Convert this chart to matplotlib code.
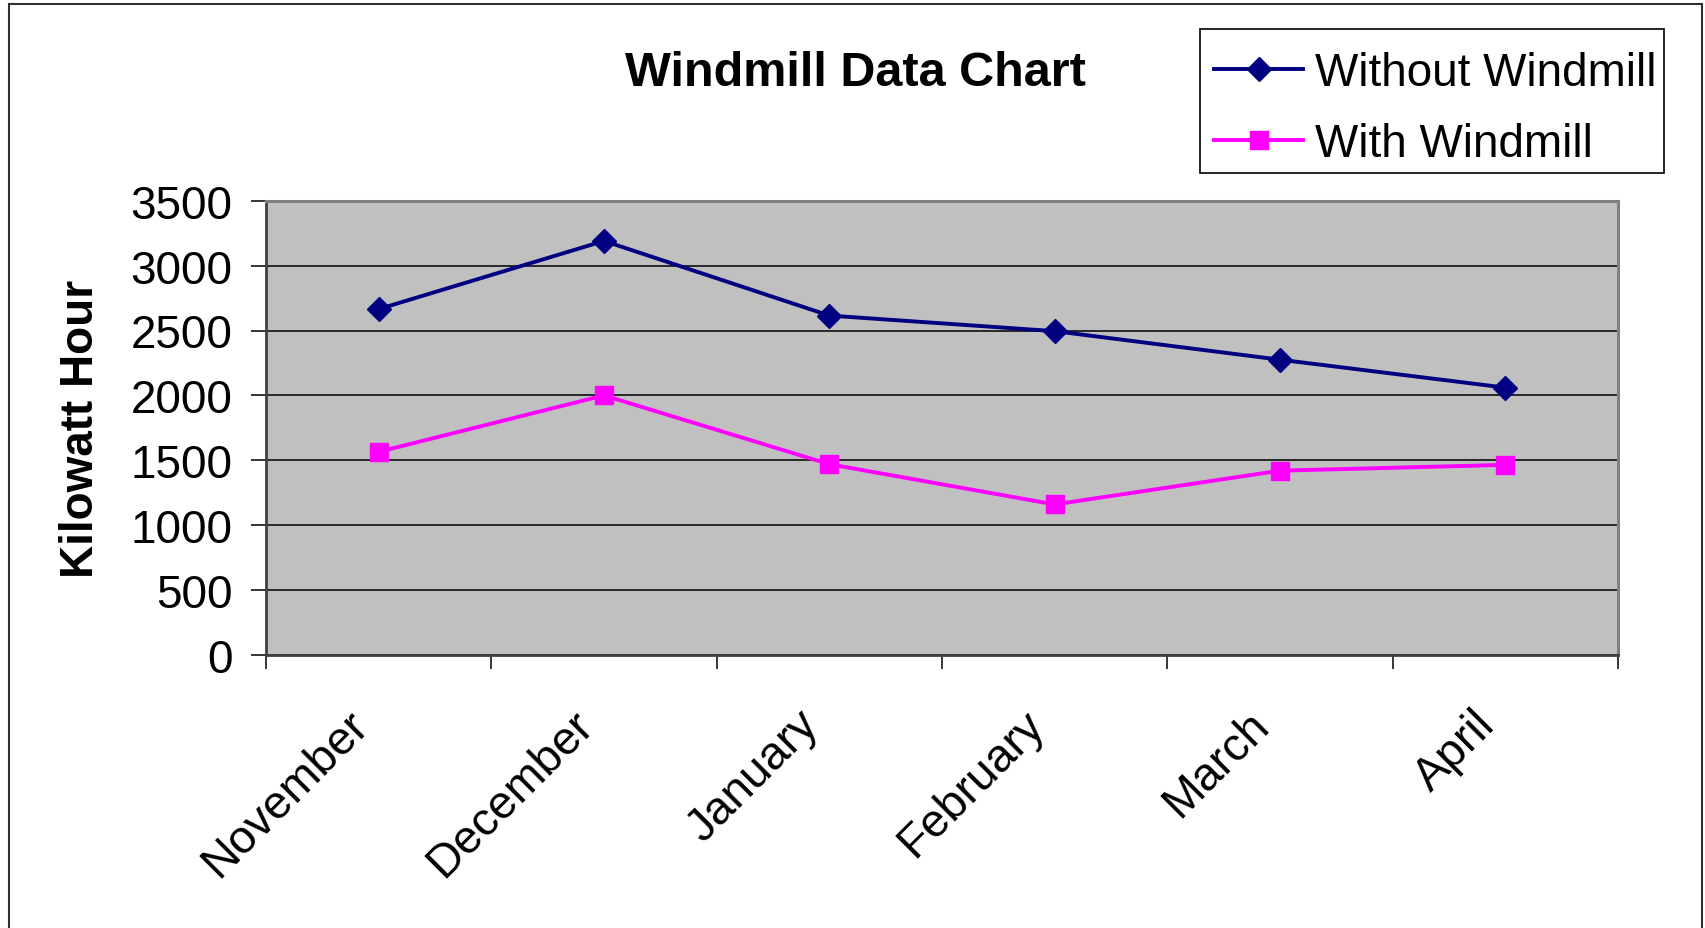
import matplotlib
matplotlib.use("Agg")
import matplotlib.pyplot as plt
from matplotlib.patches import Rectangle
from matplotlib.transforms import ScaledTranslation
import numpy as np

months = ["November", "December", "January", "February", "March", "April"]
without_windmill = [2665, 3190, 2615, 2495, 2275, 2060]
with_windmill = [1565, 2000, 1470, 1160, 1420, 1465]
y_ticks = [0, 500, 1000, 1500, 2000, 2500, 3000, 3500]

plt.rcParams['font.family'] = ['Liberation Sans', 'DejaVu Sans']

fig = plt.figure(figsize=(17.05, 9.29), dpi=100)
ax = fig.add_axes([266/1705, 1-656/929, (1618-266)/1705, (656-201.7)/929])
ax.set_facecolor('#C0C0C0')

x = np.arange(len(months))
ax.plot(x, without_windmill, color='#000080', lw=2.8, marker='D', ms=12.5,
        label='Without Windmill', zorder=3)
ax.plot(x, with_windmill, color='#FF00FF', lw=2.8, marker='s', ms=13,
        label='With Windmill', zorder=3)

ax.set_xlim(-0.5, len(months) - 0.5)
ax.set_ylim(0, 3500)
ax.set_yticks(y_ticks)
ax.set_yticklabels([str(v) for v in y_ticks], fontsize=33)
ax.yaxis.grid(True, color='black', lw=1.1)
ax.set_axisbelow(True)

ax.set_xticks(np.arange(len(months) + 1) - 0.5)
ax.set_xticklabels([])
ax.set_xticks(x, minor=True)
ax.set_xticklabels(months, minor=True, fontsize=33.5, rotation=45,
                   ha='right', va='top', rotation_mode='anchor')
ax.tick_params(axis='x', which='major', length=10, width=1.1, direction='out', color='black')
ax.tick_params(axis='x', which='minor', length=0, pad=34)
ax.tick_params(axis='y', length=11, width=1.1, direction='out', pad=13, color='black')

for s in ['top', 'right']:
    ax.spines[s].set_color('#808080')
    ax.spines[s].set_linewidth(2.2)
ax.spines['left'].set_color('#404040')
ax.spines['left'].set_linewidth(2.0)
ax.spines['bottom'].set_color('#404040')
ax.spines['bottom'].set_linewidth(2.0)

ax.set_ylabel('Kilowatt Hour', fontsize=33, fontweight='bold', labelpad=20,
              family=['Liberation Sans Narrow', 'Liberation Sans'])

fig.text(855/1705, 1-73/929, 'Windmill Data Chart', fontsize=35, fontweight='bold',
         ha='center', va='center')

# legend frame drawn separately, beneath the axes layer
fig.patches.append(Rectangle((1200/1705, 1-174/929), 464/1705, 144/929,
                             transform=fig.transFigure, facecolor='white',
                             edgecolor='black', lw=1.2, zorder=-1))
leg = ax.legend(loc='upper left', bbox_to_anchor=(1214/1705, 1-52/929),
                bbox_transform=fig.transFigure, fontsize=33, frameon=False,
                handlelength=1.95, handletextpad=0.25, labelspacing=0.58,
                borderpad=0, borderaxespad=0)

fig.patches.append(Rectangle((9/1705, -0.01), (1702-9)/1705, 1.01-5/929,
                             transform=fig.transFigure, fill=False,
                             edgecolor='#303030', lw=1.5))

offset = ScaledTranslation(-33/100, 0, fig.dpi_scale_trans)
for lbl in ax.get_xticklabels(minor=True):
    lbl.set_transform(lbl.get_transform() + offset)

fig.savefig('out.png', dpi=100)
